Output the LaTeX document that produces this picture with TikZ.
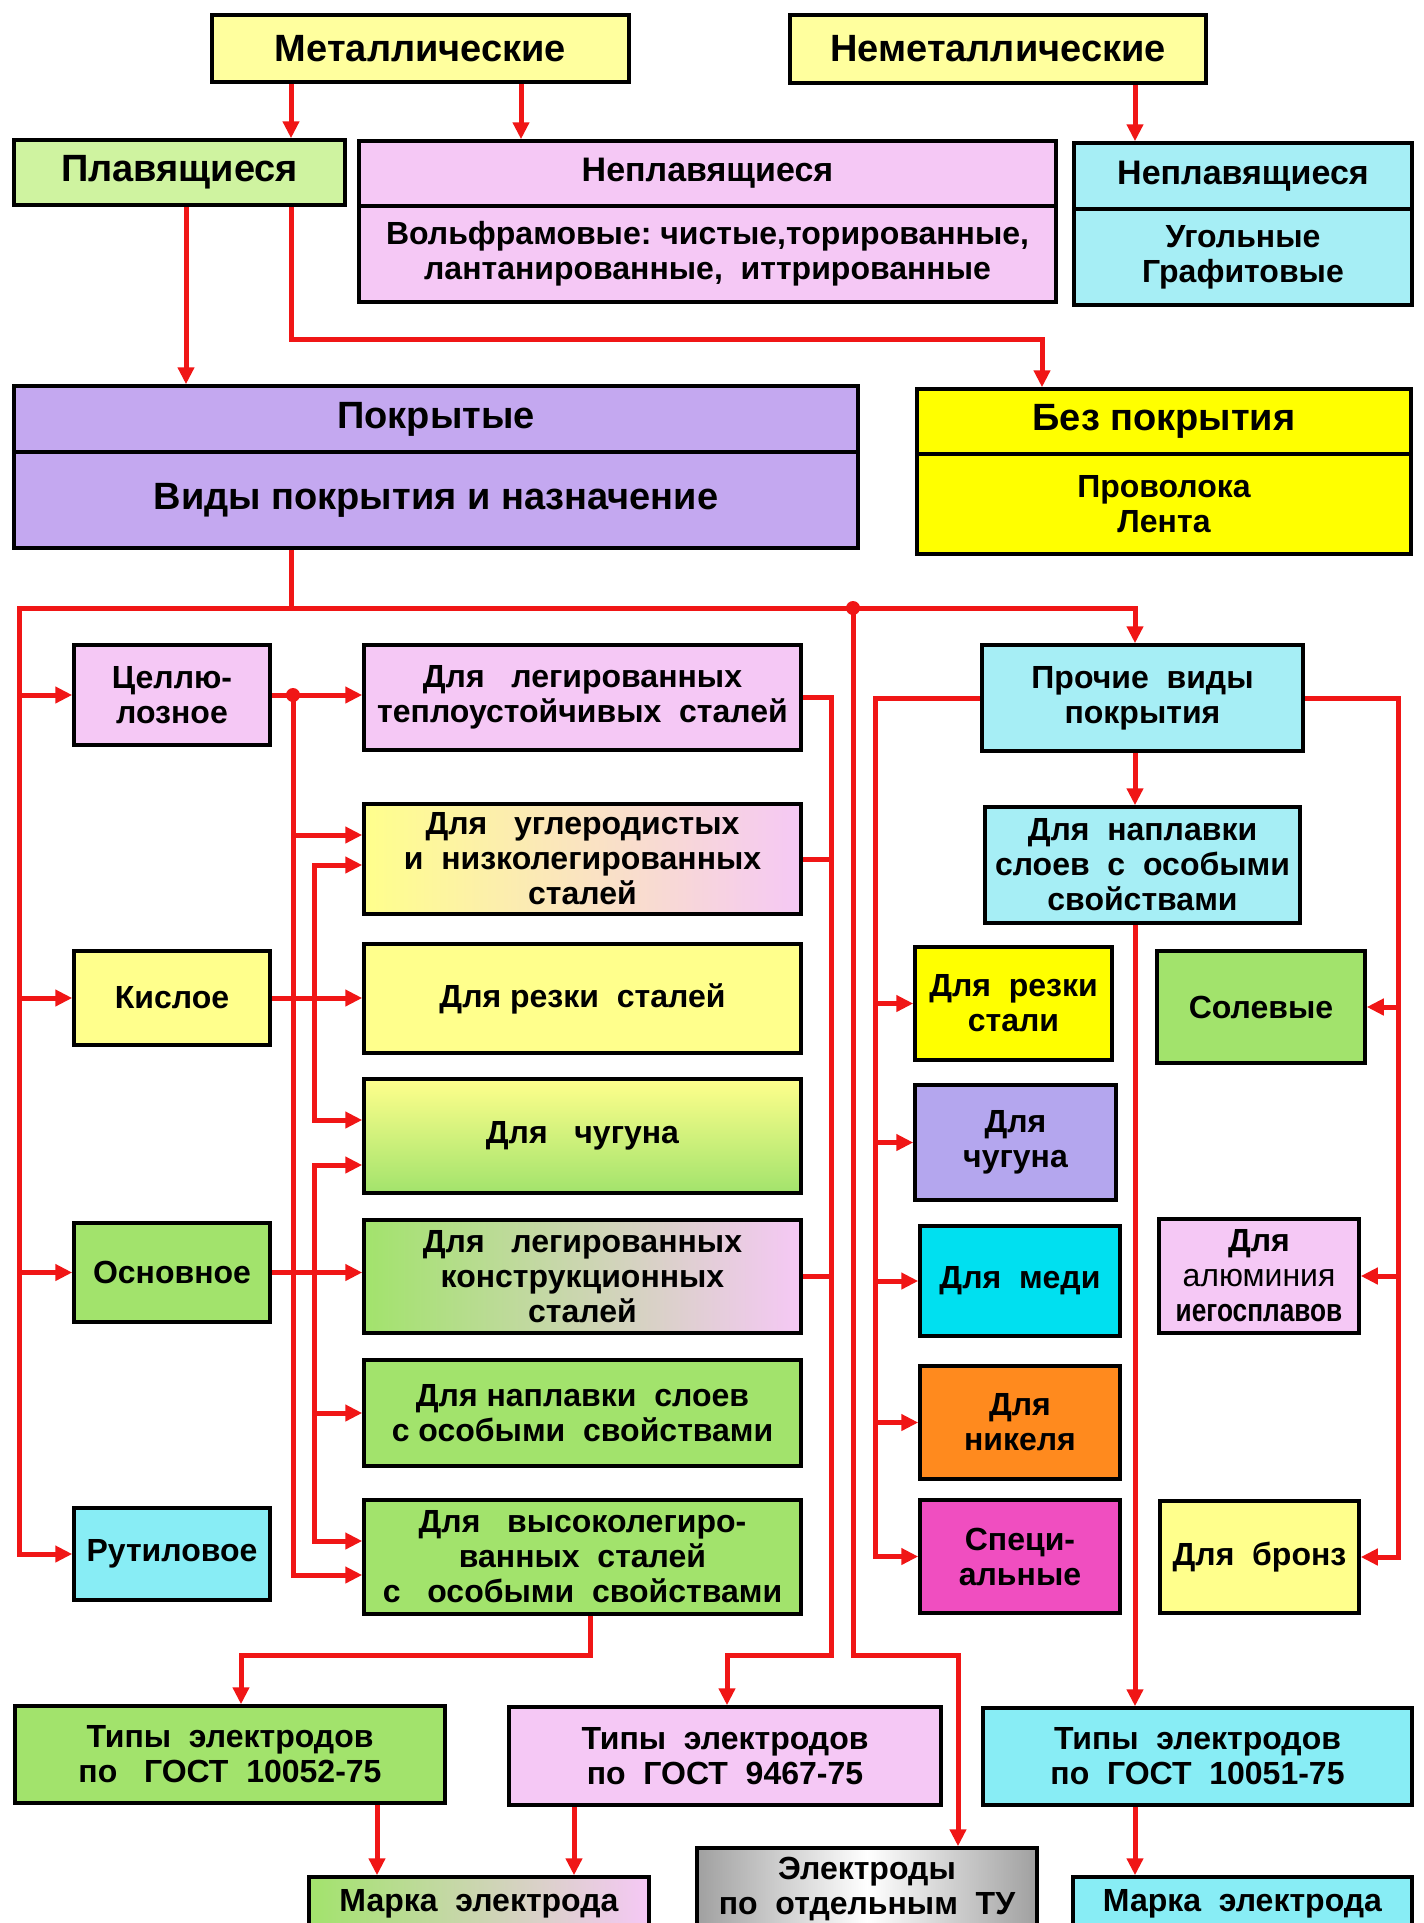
\documentclass[tikz,border=0pt]{standalone}
\usepackage{fontspec}
\setmainfont{Liberation Sans}
\newfontfamily\condf{Liberation Sans}[FakeStretch=0.82]
\usetikzlibrary{arrows.meta}
\definecolor{conred}{RGB}{240,22,22}
\definecolor{yelP}{HTML}{FFFF9E}
\definecolor{greenP}{HTML}{CFF3A0}
\definecolor{pinkL}{HTML}{F5C8F5}
\definecolor{cyanL}{HTML}{A6EEF5}
\definecolor{lav}{HTML}{C4A8F0}
\definecolor{yelB}{HTML}{FFFF00}
\definecolor{yelK}{HTML}{FFFF8C}
\definecolor{greenM}{HTML}{A2E36C}
\definecolor{cyanR}{HTML}{88EDF5}
\definecolor{violetB}{HTML}{B4A6EE}
\definecolor{cyanM}{HTML}{00E0F0}
\definecolor{orangeB}{HTML}{FF8A1E}
\definecolor{magB}{HTML}{F04EC0}
\definecolor{grayB}{HTML}{A0A0A0}
\newcommand\mkbox[7]{%
  \pgfmathsetmacro\bxcx{(#2+#4)/2}\pgfmathsetmacro\bxcy{(#3+#5)/2}%
  \pgfmathsetmacro\bxw{#4-#2}\pgfmathsetmacro\bxh{#5-#3}%
  \node[box,#6,minimum width=\bxw pt,minimum height=\bxh pt] (#1) at (\bxcx,\bxcy) {#7};}
\tikzset{
  box/.style={draw=black, line width=3.5pt, align=center, inner sep=0pt, text=black,
    font=\bfseries\fontsize{32}{35}\selectfont},
  hfont/.style={font=\bfseries\fontsize{38}{42}\selectfont},
  mfont/.style={font=\bfseries\fontsize{34}{38}\selectfont},
  con/.style={draw=conred, line width=5pt},
  arr/.style={con, -{Triangle[length=17pt,width=16pt]}},
  darr/.style={con, {Triangle[length=17pt,width=16pt]}-{Triangle[length=17pt,width=16pt]}},
}
\begin{document}
\begin{tikzpicture}[x=1pt,y=-1pt]
\useasboundingbox (0,0) rectangle (1424,1923);
\fill[white] (0,0) rectangle (1424,1923);
\clip (0,0) rectangle (1424,1923);

% ---- top level
\mkbox{met}{212}{15}{629}{82}{fill=yelP,hfont}{Металлические}
\mkbox{nemet}{790}{15}{1206}{83}{fill=yelP,hfont}{Неметаллические}
\mkbox{plav}{14}{140}{345}{205}{fill=greenP,hfont}{Плавящиеся}
\mkbox{neplA}{359}{141}{1056}{206}{fill=pinkL,mfont}{Неплавящиеся}
\mkbox{neplB}{359}{206}{1056}{302}{fill=pinkL}{Вольфрамовые:\ чистые,торированные,\\лантанированные,\ \ иттрированные}
\mkbox{nemA}{1074}{143}{1412}{209}{fill=cyanL,mfont}{Неплавящиеся}
\mkbox{nemB}{1074}{209}{1412}{305}{fill=cyanL}{Угольные\\Графитовые}
\mkbox{pokr}{14}{386}{858}{452}{fill=lav,hfont}{Покрытые}
\mkbox{vidy}{14}{452}{858}{548}{fill=lav,hfont}{Виды покрытия и назначение}
\mkbox{bez}{917}{389}{1411}{454}{fill=yelB,hfont}{Без покрытия}
\mkbox{bezB}{917}{454}{1411}{554}{fill=yelB}{Проволока\\Лента}

% ---- left column
\mkbox{cell}{74}{645}{270}{745}{fill=pinkL}{Целлю-\\лозное}
\mkbox{kisl}{74}{951}{270}{1045}{fill=yelK}{Кислое}
\mkbox{osn}{74}{1223}{270}{1322}{fill=greenM}{Основное}
\mkbox{rut}{74}{1508}{270}{1600}{fill=cyanR}{Рутиловое}

% ---- middle column
\mkbox{teplo}{364}{645}{801}{750}{fill=pinkL}{Для\ \ \ легированных\\теплоустойчивых\ \ сталей}
\mkbox{carb}{364}{804}{801}{914}{left color=yelK,right color=pinkL}{Для\ \ \ углеродистых\\и\ \ низколегированных\\сталей}
\mkbox{resk}{364}{944}{801}{1053}{fill=yelK}{Для\ резки\ \ сталей}
\mkbox{cast}{364}{1079}{801}{1193}{top color=yelK,bottom color=greenM}{Для\ \ \ чугуна}
\mkbox{constr}{364}{1220}{801}{1333}{left color=greenM,right color=pinkL}{Для\ \ \ легированных\\конструкционных\\сталей}
\mkbox{napl}{364}{1360}{801}{1466}{fill=greenM}{Для наплавки\ \ слоев\\с\ особыми\ \ свойствами}
\mkbox{high}{364}{1500}{801}{1614}{fill=greenM}{Для\ \ \ высоколегиро-\\ванных\ \ сталей\\с\ \ \ особыми\ \ свойствами}

% ---- right part
\mkbox{proch}{982}{645}{1303}{751}{fill=cyanL}{Прочие\ \ виды\\покрытия}
\mkbox{naplc}{985}{807}{1300}{923}{fill=cyanL}{Для\ \ наплавки\\слоев\ \ с\ \ особыми\\свойствами}
\mkbox{reska}{915}{947}{1112}{1060}{fill=yelB}{Для\ \ резки\\стали}
\mkbox{sol}{1157}{951}{1365}{1063}{fill=greenM}{Солевые}
\mkbox{castv}{915}{1085}{1116}{1200}{fill=violetB}{Для\\чугуна}
\mkbox{med}{920}{1226}{1120}{1336}{fill=cyanM}{Для\ \ меди}
\mkbox{alum}{1159}{1219}{1359}{1333}{fill=pinkL}{Для\\{\mdseries алюминия}\\{\condf\bfseries иегосплавов}}
\mkbox{nik}{920}{1366}{1120}{1479}{fill=orangeB}{Для\\никеля}
\mkbox{spec}{920}{1500}{1120}{1613}{fill=magB}{Специ-\\альные}
\mkbox{bronz}{1160}{1501}{1359}{1613}{fill=yelK}{Для\ \ бронз}

% ---- bottom
\mkbox{g10052}{15}{1706}{445}{1803}{fill=greenM}{Типы\ \ электродов\\по\ \ \ ГОСТ\ \ 10052-75}
\mkbox{g9467}{509}{1707}{941}{1805}{fill=pinkL}{Типы\ \ электродов\\по\ \ ГОСТ\ \ 9467-75}
\mkbox{g10051}{983}{1708}{1412}{1805}{fill=cyanR}{Типы\ \ электродов\\по\ \ ГОСТ\ \ 10051-75}
\mkbox{markaL}{309}{1877}{649}{1930}{left color=greenM,right color=pinkL}{Марка\ \ электрода}
\mkbox{tu}{697}{1848}{1037}{1930}{left color=grayB,right color=grayB,middle color=white}{Электроды\\по\ \ отдельным\ \ ТУ}
\mkbox{markaR}{1073}{1877}{1412}{1930}{fill=cyanR}{Марка\ \ электрода}

% ---- lanes
\coordinate (x186) at (186,0);
\coordinate (x291) at (291,0);
\coordinate (x521) at (521,0);
\coordinate (x1135) at (1135,0);
\coordinate (x1042) at (1042,0);
\coordinate (y339) at (0,339);
\coordinate (lv) at (19,0);
\coordinate (busY) at (0,608);
\coordinate (b1) at (293,0);
\coordinate (b2) at (314,0);
\coordinate (rv) at (831,0);
\coordinate (dv) at (853,0);
\coordinate (botY) at (0,1655);
\coordinate (x727) at (727,0);
\coordinate (x958) at (958,0);
\coordinate (x590) at (590,0);
\coordinate (x241) at (241,0);
\coordinate (pl) at (875,0);
\coordinate (pr) at (1398,0);
\coordinate (x377) at (377,0);
\coordinate (x574) at (574,0);
\coordinate (carbA) at ([yshift=24pt]carb.west);
\coordinate (carbB) at ([yshift=-6pt]carb.west);
\coordinate (castA) at ([yshift=16pt]cast.west);
\coordinate (castB) at ([yshift=-29pt]cast.west);
\coordinate (highA) at ([yshift=16pt]high.west);
\coordinate (highB) at ([yshift=-18pt]high.west);

% ---- top connectors
\draw[arr] (met.south -| x291) -- (plav.north -| x291);
\draw[arr] (met.south -| x521) -- (neplA.north -| x521);
\draw[arr] (nemet.south -| x1135) -- (nemA.north -| x1135);
\draw[arr] (plav.south -| x186) -- (pokr.north -| x186);
\draw[arr] (plav.south -| x291) -- (x291 |- y339) -- (x1042 |- y339) -- (bez.north -| x1042);

% ---- main bus
\draw[con] (vidy.south -| x291) -- (x291 |- busY);
\draw[darr] (rut.west) -- (lv |- rut.west) -- (lv |- busY) -- (x1135 |- busY) -- (proch.north -| x1135);
\draw[arr] (lv |- cell.west) -- (cell.west);
\draw[arr] (lv |- kisl.west) -- (kisl.west);
\draw[arr] (lv |- osn.west) -- (osn.west);
\fill[conred] (dv |- busY) circle (7pt);

% ---- left to middle
\draw[arr] (cell.east) -- (teplo.west |- cell.east);
\draw[arr] (b1 |- cell.east) -- (b1 |- highB) -- (highB);
\draw[arr] (b1 |- carbA) -- (carbA);
\fill[conred] (b1 |- cell.east) circle (7pt);
\draw[arr] (kisl.east) -- (resk.west |- kisl.east);
\draw[arr] (b2 |- kisl.east) -- (b2 |- carbB) -- (carbB);
\draw[arr] (b2 |- kisl.east) -- (b2 |- castA) -- (castA);
\draw[arr] (osn.east) -- (constr.west |- osn.east);
\draw[arr] (b2 |- osn.east) -- (b2 |- castB) -- (castB);
\draw[arr] (b2 |- osn.east) -- (b2 |- highA) -- (highA);
\draw[arr] (b2 |- napl.west) -- (napl.west);

% ---- middle to bottom
\draw[con] (carb.east) -- (rv |- carb.east);
\draw[con] (constr.east) -- (rv |- constr.east);
\draw[arr] (teplo.east) -- (rv |- teplo.east) -- (rv |- botY) -- (x727 |- botY) -- (g9467.north -| x727);
\draw[arr] (dv |- busY) -- (dv |- botY) -- (x958 |- botY) -- (tu.north -| x958);
\draw[arr] (high.south -| x590) -- (x590 |- botY) -- (x241 |- botY) -- (g10052.north -| x241);

% ---- right group
\draw[arr] (proch.west) -- (pl |- proch.west) -- (pl |- spec.west) -- (spec.west);
\draw[arr] (pl |- reska.west) -- (reska.west);
\draw[arr] (pl |- castv.west) -- (castv.west);
\draw[arr] (pl |- med.west) -- (med.west);
\draw[arr] (pl |- nik.west) -- (nik.west);
\draw[arr] (proch.east) -- (pr |- proch.east) -- (pr |- bronz.east) -- (bronz.east);
\draw[arr] (pr |- sol.east) -- (sol.east);
\draw[arr] (pr |- alum.east) -- (alum.east);
\draw[arr] (proch.south -| x1135) -- (naplc.north -| x1135);
\draw[arr] (naplc.south -| x1135) -- (g10051.north -| x1135);

% ---- to marks
\draw[arr] (g10052.south -| x377) -- (markaL.north -| x377);
\draw[arr] (g9467.south -| x574) -- (markaL.north -| x574);
\draw[arr] (g10051.south -| x1135) -- (markaR.north -| x1135);
\end{tikzpicture}
\end{document}
